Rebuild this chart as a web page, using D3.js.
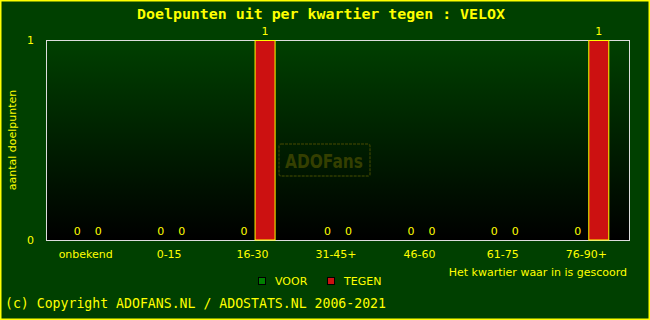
<!DOCTYPE html>
<html><head><meta charset="utf-8">
<script src="https://cdn.jsdelivr.net/npm/d3@7"></script>
<style>body{margin:0;background:#fff}svg{display:block}</style>
</head><body>
<script>
const categories = ["onbekend","0-15","16-30","31-45+","46-60","61-75","76-90+"];
const voor = [0,0,0,0,0,0,0];
const tegen = [0,0,1,0,0,0,1];
const series = ["VOOR","TEGEN"];
const yTicks = [0,1];

const W=650,H=320;
const m={l:46,t:40,r:630,b:240};
const svg=d3.select("body").append("svg").attr("width",W).attr("height",H);
const defs=svg.append("defs");
const g=defs.append("linearGradient").attr("id","bg").attr("x1",0).attr("y1",0).attr("x2",0).attr("y2",1);
g.append("stop").attr("offset","0%").attr("stop-color","#004000");
g.append("stop").attr("offset","100%").attr("stop-color","#000000");

svg.append("rect").attr("x",0.5).attr("y",0.5).attr("width",W-1).attr("height",H-1).attr("fill","#004000").attr("stroke","#ffff00").attr("stroke-width",2);

const x=d3.scaleBand().domain(categories).range([m.l,m.r]);
const x1=d3.scaleBand().domain(series).range([x.bandwidth()/2-21,x.bandwidth()/2+21]);
const y=d3.scaleLinear().domain([0,1]).range([m.b,m.t]);

svg.append("rect").attr("x",m.l).attr("y",m.t).attr("width",m.r-m.l).attr("height",m.b-m.t).attr("fill","url(#bg)");

// watermark
const wm=svg.append("g");
wm.append("rect").attr("x",279).attr("y",144).attr("width",91).attr("height",32).attr("rx",2).attr("fill","none").attr("stroke","#303c00").attr("stroke-width",1.5).attr("stroke-dasharray","3,1");
wm.append("text").attr("x",285).attr("y",168).attr("textLength",78).attr("lengthAdjust","spacingAndGlyphs").attr("font-family","DejaVu Sans").attr("font-weight","bold").attr("font-size",20).attr("fill","#343f00").text("ADOFans");

svg.append("rect").attr("x",m.l+0.5).attr("y",m.t+0.5).attr("width",m.r-m.l-1).attr("height",m.b-m.t).attr("fill","none").attr("stroke","#dddddd").attr("stroke-width",1);

const data=[];
categories.forEach((c,i)=>{data.push({c,s:"VOOR",v:voor[i]});data.push({c,s:"TEGEN",v:tegen[i]});});
const color={VOOR:"#008000",TEGEN:"#cc1111"};

svg.selectAll(".bar").data(data.filter(d=>d.v>0)).join("rect")
 .attr("x",d=>x(d.c)+x1(d.s)+0.5).attr("y",d=>y(d.v)+0.5)
 .attr("width",x1.bandwidth()-1).attr("height",d=>y(0)-y(d.v)-0.5)
 .attr("fill",d=>color[d.s]).attr("stroke","#ffff00").attr("stroke-width",1);

const font="DejaVu Sans";
svg.selectAll(".vl").data(data).join("text")
 .attr("x",d=>x(d.c)+x1(d.s)+x1.bandwidth()/2).attr("y",d=>y(d.v)-5)
 .attr("text-anchor","middle").attr("font-family",font).attr("font-size",11).attr("fill","#ffff00").text(d=>d.v);

// x labels
svg.selectAll(".xl").data(categories).join("text")
 .attr("x",d=>x(d)+x.bandwidth()/2-2).attr("y",258).attr("text-anchor","middle")
 .attr("font-family",font).attr("font-size",11).attr("fill","#ffff00").text(d=>d);

svg.selectAll(".yl").data(yTicks).join("text")
 .attr("x",34).attr("y",d=>y(d)+4).attr("text-anchor","end")
 .attr("font-family",font).attr("font-size",11).attr("fill","#ffff00").text(d=>d);

svg.append("text").attr("transform","translate(16,140) rotate(-90)").attr("text-anchor","middle")
 .attr("font-family",font).attr("font-size",11).attr("fill","#ffff00").text("aantal doelpunten");

svg.append("text").attr("x",627).attr("y",276).attr("text-anchor","end")
 .attr("font-family",font).attr("font-size",11).attr("fill","#ffff00").text("Het kwartier waar in is gescoord");

const lg=[{s:"VOOR",x:258},{s:"TEGEN",x:327}];
lg.forEach(l=>{
 svg.append("rect").attr("x",l.x+0.5).attr("y",277.5).attr("width",7).attr("height",7).attr("fill",color[l.s]).attr("stroke","#000").attr("stroke-width",1);
 svg.append("text").attr("x",l.x+17).attr("y",285).attr("font-family",font).attr("font-size",11).attr("fill","#ffff00").text(l.s);
});

svg.append("text").attr("x",137).attr("y",19).attr("textLength",368).attr("lengthAdjust","spacingAndGlyphs")
 .attr("font-family","DejaVu Sans Mono").attr("font-weight","bold").attr("font-size",13.5).attr("fill","#ffff00").text("Doelpunten uit per kwartier tegen : VELOX");
svg.append("text").attr("x",5).attr("y",308).attr("textLength",381).attr("lengthAdjust","spacingAndGlyphs")
 .attr("font-family","DejaVu Sans Mono").attr("font-size",13.5).attr("fill","#ffff00").text("(c) Copyright ADOFANS.NL / ADOSTATS.NL 2006-2021");
</script>
</body></html>
